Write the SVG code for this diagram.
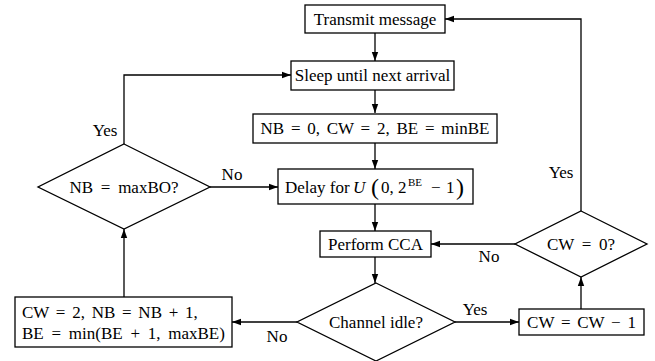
<svg xmlns="http://www.w3.org/2000/svg" width="655" height="361" viewBox="0 0 655 361">
  <defs>
    <marker id="arrow" markerWidth="10" markerHeight="8" refX="9" refY="4" orient="auto" markerUnits="userSpaceOnUse">
      <path d="M0,0.8 L9,4 L0,7.2 Z" fill="#000"/>
    </marker>
  </defs>
  <style>
    .box { fill: #fff; stroke: #000; stroke-width: 1.3; }
    .edge { fill: none; stroke: #000; stroke-width: 1.3; marker-end: url(#arrow); }
    text { font-family: 'Liberation Serif', 'DejaVu Serif', serif; font-size: 17px; fill: #000; }
    .c { text-anchor: middle; dominant-baseline: central; }
    .lbl { text-anchor: middle; }
    .math { word-spacing: 2.5px; }
    .mathw { word-spacing: 3.5px; }
  </style>
  <rect width="655" height="361" fill="#fff"/>

  <g id="connectors">
    <line class="edge" x1="375" y1="33" x2="375" y2="61"/>
    <line class="edge" x1="375" y1="90" x2="375" y2="113"/>
    <line class="edge" x1="375" y1="143" x2="375" y2="169"/>
    <line class="edge" x1="375" y1="204" x2="375" y2="231"/>
    <line class="edge" x1="375" y1="257" x2="375" y2="283"/>
    <line class="edge" x1="455" y1="322" x2="519" y2="322"/>
    <line class="edge" x1="297" y1="322" x2="232" y2="322"/>
    <line class="edge" x1="124" y1="297" x2="124" y2="229"/>
    <line class="edge" x1="210" y1="187" x2="278" y2="187"/>
    <path class="edge" d="M124,144 V75 H291"/>
    <line class="edge" x1="581" y1="309" x2="581" y2="277"/>
    <line class="edge" x1="515" y1="244" x2="431" y2="244"/>
    <path class="edge" d="M581,211 V19 H445"/>
    <text class="lbl" x="475" y="315">Yes</text>
    <text class="lbl" x="277" y="342">No</text>
    <text class="lbl" x="232" y="180">No</text>
    <text class="lbl" x="105" y="136">Yes</text>
    <text class="lbl" x="489" y="262">No</text>
    <text class="lbl" x="561" y="178">Yes</text>
  </g>

  <g id="transmit">
    <rect class="box" x="305" y="5" width="140" height="28"/>
    <text class="c" x="375" y="19">Transmit message</text>
  </g>
  <g id="sleep">
    <rect class="box" x="291" y="61" width="163" height="29"/>
    <text class="c" x="372.5" y="75.5">Sleep until next arrival</text>
  </g>
  <g id="init">
    <rect class="box" x="253" y="114" width="244" height="29"/>
    <text class="c math" x="375" y="128.5">NB = 0, CW = 2, BE = minBE</text>
  </g>
  <g id="delay">
    <rect class="box" x="278" y="169" width="195" height="35"/>
    <text y="193"><tspan x="285">Delay for</tspan><tspan x="353" font-style="italic">U</tspan><tspan x="371" font-size="24" dy="2">(</tspan><tspan x="381" dy="-2">0,</tspan><tspan x="398">2</tspan><tspan x="408" font-size="11" dy="-7">BE</tspan><tspan x="431" dy="7">−</tspan><tspan x="446">1</tspan><tspan x="456" font-size="24" dy="2">)</tspan></text>
  </g>
  <g id="cca">
    <rect class="box" x="320" y="231" width="111" height="26"/>
    <text class="c" x="375.5" y="244">Perform CCA</text>
  </g>
  <g id="idle">
    <polygon class="box" points="376,283 455,322 376,361 297,322"/>
    <text class="c" x="376" y="322">Channel idle?</text>
  </g>
  <g id="decrement">
    <rect class="box" x="519" y="309" width="125" height="26"/>
    <text class="c math" x="581.5" y="322">CW = CW − 1</text>
  </g>
  <g id="cwzero">
    <polygon class="box" points="581,211 647,244 581,277 515,244"/>
    <text class="c mathw" x="581" y="244">CW = 0?</text>
  </g>
  <g id="maxbo">
    <polygon class="box" points="124,144 210,187 124,229 38,187"/>
    <text class="c mathw" x="124" y="187">NB = maxBO?</text>
  </g>
  <g id="backoff">
    <rect class="box" x="15" y="297" width="217" height="50"/>
    <text class="math" x="22" y="318">CW = 2, NB = NB + 1,</text>
    <text class="mathw" x="22" y="339">BE = min(BE + 1, maxBE)</text>
  </g>
</svg>
